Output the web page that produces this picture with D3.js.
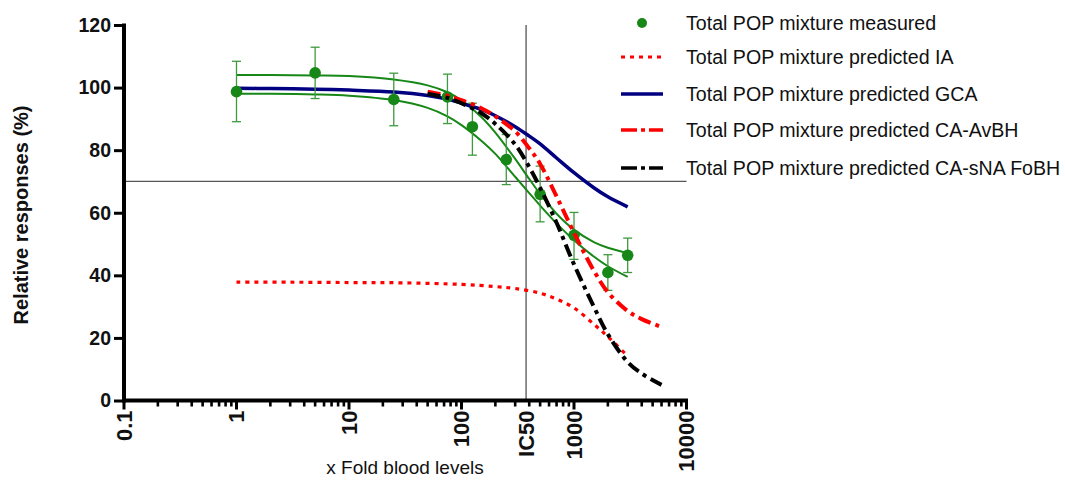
<!DOCTYPE html>
<html>
<head>
<meta charset="utf-8">
<script src="https://cdn.jsdelivr.net/npm/d3@7"></script>
<style>
  html, body { margin: 0; padding: 0; background: #fff; }
  svg { display: block; font-family: "Liberation Sans", Arial, sans-serif; }
</style>
</head>
<body>
<svg id="chart" width="1065" height="484"></svg>
<script>
// ---------- data ----------
const measuredX = [1, 5, 25, 75, 125, 250, 500, 1000, 2000, 3000];
const measuredY = [98.7, 104.7, 96.2, 97.0, 87.5, 77.0, 65.9, 52.8, 40.9, 46.4];
const measuredHigh = [108.4, 112.9, 104.6, 104.3, 95.0, 85.0, 74.9, 60.1, 46.6, 51.9];
const measuredLow = [89.1, 96.5, 87.8, 88.5, 78.4, 69.0, 57.1, 45.1, 35.2, 40.9];

const fitX = [1, 2, 5, 10, 25, 50, 75, 100, 150, 200, 300, 400, 500, 700, 1000, 1500, 2000, 3000];
const fitUpper = [104.0, 104.0, 103.9, 103.7, 102.6, 100.7, 98.5, 95.9, 90.6, 85.6, 77.2, 70.8, 66.0, 59.7, 54.6, 50.6, 48.8, 47.1];
const fitLower = [98.0, 98.0, 97.8, 97.4, 96.0, 93.5, 90.8, 88.0, 83.0, 78.8, 71.5, 66.3, 62.3, 56.6, 51.2, 46.0, 42.9, 39.5];
const gcaY = [99.8, 99.7, 99.5, 99.2, 98.6, 97.5, 96.3, 95.0, 93.0, 91.0, 87.5, 84.5, 82.0, 77.5, 72.8, 68.0, 65.1, 61.9];

const iaX = [1, 3, 10, 30, 100, 200, 300, 500, 700, 1000, 1500, 2000, 3000];
const iaY = [37.8, 37.8, 37.7, 37.6, 37.1, 36.4, 35.8, 34.3, 32.4, 29.6, 24.4, 20.4, 14.2];

const caX = [50, 75, 100, 150, 200, 300, 400, 500, 700, 1000, 1500, 2000, 3000, 4000, 6000];
const avbhY = [98.7, 97.4, 96.0, 93.4, 90.8, 86.0, 80.6, 75.6, 65.2, 53.6, 41.5, 34.6, 28.6, 26.0, 23.5];
const fobhY = [98.0, 96.7, 95.0, 91.8, 88.4, 81.8, 74.6, 68.0, 56.8, 43.5, 30.0, 21.2, 12.3, 8.6, 5.0];

const xTickValues = [0.1, 1, 10, 100, 1000, 10000];
const xTickLabels = ["0.1", "1", "10", "100", "1000", "10000"];
const ic50 = 375;
const ic50Label = "IC50";
const refLevel = 70;
const yTickValues = [0, 20, 40, 60, 80, 100, 120];

const legendLabels = [
  "Total POP mixture measured",
  "Total POP mixture predicted IA",
  "Total POP mixture predicted GCA",
  "Total POP mixture predicted CA-AvBH",
  "Total POP mixture predicted CA-sNA FoBH"
];

// ---------- setup ----------
const svg = d3.select("#chart");
const x = d3.scaleLog().domain([0.1, 10000]).range([124, 686.5]);
const y = d3.scaleLinear().domain([0, 120]).range([400.5, 25]);

const GREEN = "#178717";
const ERR = "#3f9a3f";
const RED = "#ff0000";
const NAVY = "#000080";
const FONT = "Liberation Sans, Arial, sans-serif";

// reference lines
svg.append("line")
  .attr("x1", x(0.1)).attr("x2", x(10000))
  .attr("y1", y(refLevel)).attr("y2", y(refLevel))
  .attr("stroke", "#555").attr("stroke-width", 1.3);
svg.append("line")
  .attr("x1", x(ic50)).attr("x2", x(ic50))
  .attr("y1", y(120)).attr("y2", y(0))
  .attr("stroke", "#555").attr("stroke-width", 1.3);

const line = (xs, ys) => d3.line()
  .x((d, i) => x(xs[i])).y(d => y(d))
  .curve(d3.curveCatmullRom.alpha(0.5))(ys);

// green fit lines
[fitUpper, fitLower].forEach(arr => {
  svg.append("path").attr("d", line(fitX, arr))
    .attr("fill", "none").attr("stroke", GREEN).attr("stroke-width", 2);
});

// GCA
svg.append("path").attr("d", line(fitX, gcaY))
  .attr("fill", "none").attr("stroke", NAVY).attr("stroke-width", 3.5);

// error bars + points
const eb = svg.append("g").attr("stroke", ERR).attr("stroke-width", 1.3);
measuredX.forEach((v, i) => {
  const cx = x(v);
  eb.append("line").attr("x1", cx).attr("x2", cx)
    .attr("y1", y(measuredHigh[i])).attr("y2", y(measuredLow[i]));
  [measuredHigh[i], measuredLow[i]].forEach(e => {
    eb.append("line").attr("x1", cx - 4.5).attr("x2", cx + 4.5)
      .attr("y1", y(e)).attr("y2", y(e));
  });
});
svg.append("g").selectAll("circle").data(measuredY).join("circle")
  .attr("cx", (d, i) => x(measuredX[i])).attr("cy", d => y(d))
  .attr("r", 5.8).attr("fill", GREEN);

// IA dotted
svg.append("path").attr("d", line(iaX, iaY))
  .attr("fill", "none").attr("stroke", RED).attr("stroke-width", 3.2)
  .attr("stroke-dasharray", "4,5");

// CA-AvBH dash-dot red
svg.append("path").attr("d", line(caX, avbhY))
  .attr("fill", "none").attr("stroke", RED).attr("stroke-width", 4)
  .attr("stroke-dasharray", "13,5,4,5");

// CA-sNA FoBH dash-dot black
svg.append("path").attr("d", line(caX, fobhY))
  .attr("fill", "none").attr("stroke", "#000").attr("stroke-width", 4)
  .attr("stroke-dasharray", "13,5,4,5");

// ---------- axes ----------
const yAxis = d3.axisLeft(y).tickValues(yTickValues).tickSize(10).tickPadding(3).tickFormat(d3.format("d"));
const yg = svg.append("g").attr("transform", `translate(${x(0.1)},0)`).call(yAxis);
yg.select(".domain").remove();
yg.selectAll(".tick line").attr("stroke", "#000").attr("stroke-width", 3);
yg.selectAll(".tick text").attr("font-size", 19.5).attr("font-weight", "bold")
  .attr("font-family", FONT).attr("fill", "#111");
svg.append("rect").attr("x", x(0.1) - 2).attr("width", 4)
  .attr("y", y(120) - 1.5).attr("height", y(0) - y(120) + 3.5)
  .attr("fill", "#000");

// x axis with minor ticks
const minorVals = [];
for (let p = -1; p < 4; p++) for (let k = 2; k <= 9; k++) minorVals.push(k * Math.pow(10, p));
const xg = svg.append("g").attr("transform", `translate(0,${y(0)})`);
xg.append("line").attr("x1", x(0.1) - 2).attr("x2", x(10000) + 1.5)
  .attr("stroke", "#000").attr("stroke-width", 4);
xg.selectAll(".minor").data(minorVals).join("line").attr("class", "minor")
  .attr("x1", d => x(d)).attr("x2", d => x(d)).attr("y1", 0).attr("y2", 6)
  .attr("stroke", "#000").attr("stroke-width", 2.6);
xg.selectAll(".major").data(xTickValues).join("line").attr("class", "major")
  .attr("x1", d => x(d)).attr("x2", d => x(d)).attr("y1", 0).attr("y2", 9)
  .attr("stroke", "#000").attr("stroke-width", 3);

const xLabelVals = xTickValues.concat([ic50]);
const xLabelTexts = xTickLabels.concat([ic50Label]);
xg.selectAll(".xl").data(xLabelVals).join("text").attr("class", "xl")
  .attr("transform", d => `translate(${x(d)},8) rotate(-90)`)
  .attr("dy", "0.36em").attr("x", -2)
  .attr("text-anchor", "end").attr("font-size", 22).attr("font-weight", "bold")
  .attr("font-family", FONT).attr("fill", "#111")
  .text((d, i) => xLabelTexts[i]);

// axis titles
svg.append("text").attr("x", 405).attr("y", 474).attr("text-anchor", "middle")
  .attr("font-size", 19).attr("fill", "#111").text("x Fold blood levels");
svg.append("text").attr("transform", "translate(28,215) rotate(-90)")
  .attr("text-anchor", "middle").attr("font-size", 20).attr("font-weight", "bold")
  .attr("fill", "#111").text("Relative responses (%)");

// ---------- legend ----------
const lg = svg.append("g");
const rowsY = [23, 57, 94, 130, 168];
const lx1 = 621, lx2 = 663, tx = 686;
lg.append("circle").attr("cx", 642).attr("cy", rowsY[0]).attr("r", 5).attr("fill", GREEN);
lg.append("line").attr("x1", lx1).attr("x2", lx2).attr("y1", rowsY[1]).attr("y2", rowsY[1])
  .attr("stroke", RED).attr("stroke-width", 3).attr("stroke-dasharray", "4,5");
lg.append("line").attr("x1", lx1).attr("x2", lx2).attr("y1", rowsY[2]).attr("y2", rowsY[2])
  .attr("stroke", NAVY).attr("stroke-width", 3.5);
lg.append("line").attr("x1", lx1).attr("x2", lx2).attr("y1", rowsY[3]).attr("y2", rowsY[3])
  .attr("stroke", RED).attr("stroke-width", 3.5).attr("stroke-dasharray", "16,4,4,4");
lg.append("line").attr("x1", lx1).attr("x2", lx2).attr("y1", rowsY[4]).attr("y2", rowsY[4])
  .attr("stroke", "#000").attr("stroke-width", 3.5).attr("stroke-dasharray", "16,4,4,4");
lg.selectAll("text").data(legendLabels).join("text")
  .attr("x", tx).attr("y", (d, i) => rowsY[i]).attr("dy", "0.35em")
  .attr("font-size", 19.6).attr("fill", "#111").text(d => d);
</script>
</body>
</html>
